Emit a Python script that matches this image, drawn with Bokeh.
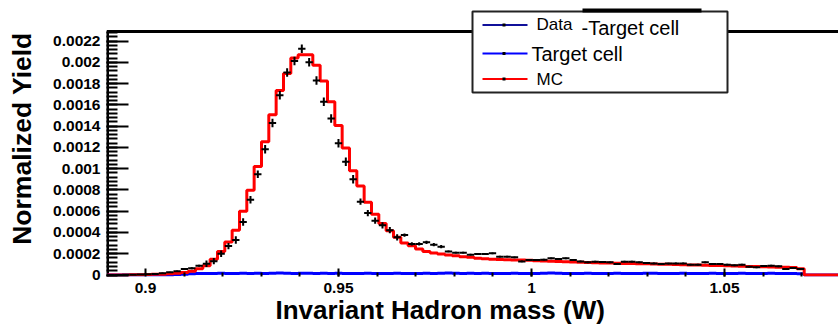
import numpy as np
from bokeh.plotting import figure
from bokeh.models import (Range1d, FixedTicker, Label, BoxAnnotation, Span, Title)
from bokeh.embed import file_html
from bokeh.resources import INLINE

# ---- histogram binning (W, GeV) ----
BIN_WIDTH = 0.0019
FIRST_EDGE = 0.89015

# MC histogram contents (normalized yield per bin)
mc = [0, 0, 1e-6, 2e-6, 3e-6, 4e-6, 6e-6, 8e-6, 1.1e-5, 1.6e-5,
      2.4e-5, 3.6e-5, 5.8e-5, 8.8e-5, 0.000147, 0.000222, 0.00031, 0.000422, 0.0006, 0.000797,
      0.00102, 0.001252, 0.001508, 0.001735, 0.001895, 0.00204, 0.002072, 0.002072, 0.001972, 0.001825,
      0.00163, 0.001405, 0.001195, 0.00098, 0.000838, 0.000683, 0.000572, 0.000485, 0.000417, 0.000354,
      0.0003, 0.000275, 0.000245, 0.000222, 0.000207, 0.000198, 0.000188, 0.000182, 0.000172, 0.000166,
      0.000158, 0.000152, 0.000149, 0.000146, 0.000144, 0.000142, 0.00014, 0.000138, 0.000135, 0.000132,
      0.00013, 0.000127, 0.000124, 0.000122, 0.00012, 0.000118, 0.000116, 0.000114, 0.000113, 0.000111,
      0.000109, 0.000108, 0.000106, 0.000105, 0.000103, 0.000101, 0.0001, 9.8e-5, 9.6e-5, 9.5e-5,
      9.4e-5, 9.2e-5, 9e-5, 8.9e-5, 8.7e-5, 8.5e-5, 8.3e-5, 8.1e-5, 8e-5, 7.8e-5,
      7.6e-5, 7.4e-5, 7.2e-5, 7e-5, 5.8e-5]

# Data minus target-cell contribution
data = [0, 0, 2e-6, 3e-6, 4e-6, 6e-6, 1e-5, 1.7e-5, 2.5e-5, 3.6e-5,
        5.6e-5, 6.4e-5, 8.75e-5, 0.000106, 0.00013, 0.0002, 0.000272, 0.00033, 0.000498, 0.000708,
        0.000947, 0.001182, 0.001429, 0.001691, 0.001905, 0.002012, 0.002127, 0.002001, 0.001829, 0.00163,
        0.001471, 0.00124, 0.001066, 0.0009, 0.00069, 0.000582, 0.000511, 0.000467, 0.000422, 0.000354,
        0.000375, 0.000292, 0.000292, 0.000307, 0.000285, 0.000266, 0.000222, 0.00021, 0.00021, 0.000191,
        0.000198, 0.000198, 0.000204, 0.000172, 0.000172, 0.000166, 0.000128, 0.000141, 0.000141, 0.000144,
        0.000157, 0.000151, 0.000157, 0.000141, 0.000128, 0.000119, 0.000125, 0.000122, 0.000119, 0.000104,
        0.000125, 0.000125, 0.000119, 0.000113, 0.000109, 0.000104, 0.000107, 0.000109, 0.000109, 9.7e-5,
        9.7e-5, 0.000119, 0.000104, 0.000104, 9.7e-5, 9.1e-5, 9.7e-5, 7.8e-5, 7.2e-5, 8.5e-5,
        8.8e-5, 8.2e-5, 5.6e-5, 6.6e-5, 5.6e-5]

# Statistical uncertainty on the data points
data_err = [3e-6, 3e-6, 3e-6, 3e-6, 3e-6, 3e-6, 6e-6, 6e-6, 6e-6, 6e-6,
            1e-5, 1e-5, 1e-5, 3e-5, 3e-5, 3e-5, 3e-5, 3.5e-5, 3.5e-5, 3.5e-5,
            3.5e-5, 4e-5, 4e-5, 4e-5, 4e-5, 4e-5, 4e-5, 4e-5, 4e-5, 4e-5,
            4e-5, 4e-5, 4e-5, 4e-5, 3e-5, 3e-5, 3e-5, 3e-5, 3e-5, 3e-5,
            1.5e-5, 1.5e-5, 1.5e-5, 1.5e-5, 1.5e-5, 1.5e-5, 8e-6, 8e-6, 8e-6, 8e-6,
            8e-6, 8e-6, 8e-6, 8e-6, 8e-6, 8e-6, 8e-6, 8e-6, 8e-6, 8e-6,
            8e-6, 8e-6, 8e-6, 8e-6, 8e-6, 8e-6, 8e-6, 8e-6, 8e-6, 8e-6,
            8e-6, 8e-6, 8e-6, 8e-6, 8e-6, 8e-6, 8e-6, 8e-6, 8e-6, 8e-6,
            8e-6, 8e-6, 8e-6, 8e-6, 8e-6, 8e-6, 8e-6, 8e-6, 8e-6, 8e-6,
            8e-6, 8e-6, 8e-6, 8e-6, 8e-6]

# Target-cell (empty target) contribution
target_cell = [0, 0, 0, 0, 0, 0, 0, 0, 0, 4e-6,
               8e-6, 1.2e-5, 1.4e-5, 1.5e-5, 1.4e-5, 1.6e-5, 1.5e-5, 1.5e-5, 1.7e-5, 1.5e-5,
               1.6e-5, 1.5e-5, 1.6e-5, 1.8e-5, 1.6e-5, 1.5e-5, 1.6e-5, 1.7e-5, 1.5e-5, 1.6e-5,
               1.5e-5, 1.6e-5, 1.5e-5, 1.4e-5, 1.5e-5, 1.6e-5, 1.5e-5, 1.4e-5, 1.5e-5, 1.6e-5,
               1.5e-5, 1.4e-5, 1.5e-5, 1.6e-5, 1.5e-5, 1.7e-5, 1.8e-5, 1.6e-5, 1.5e-5, 1.6e-5,
               1.5e-5, 1.6e-5, 1.5e-5, 1.4e-5, 1.5e-5, 1.6e-5, 1.5e-5, 1.4e-5, 1.5e-5, 1.6e-5,
               1.8e-5, 1.6e-5, 1.5e-5, 1.4e-5, 1.5e-5, 1.6e-5, 1.5e-5, 1.4e-5, 1.5e-5, 1.6e-5,
               1.5e-5, 1.4e-5, 1.5e-5, 1.6e-5, 1.7e-5, 1.5e-5, 1.4e-5, 1.5e-5, 1.6e-5, 1.5e-5,
               1.4e-5, 1.5e-5, 1.6e-5, 1.5e-5, 1.4e-5, 1.5e-5, 1.6e-5, 1.5e-5, 1.4e-5, 1.5e-5,
               1.6e-5, 1.5e-5, 1.4e-5, 1.3e-5, 1.2e-5]

# Axis ticks and their labels
x_ticks = [0.9, 0.95, 1.0, 1.05]
x_tick_labels = ["0.9", "0.95", "1", "1.05"]
y_ticks = [0, 0.0002, 0.0004, 0.0006, 0.0008, 0.001, 0.0012, 0.0014, 0.0016,
           0.0018, 0.002, 0.0022]
y_tick_labels = ["0", "0.0002", "0.0004", "0.0006", "0.0008", "0.001", "0.0012",
                 "0.0014", "0.0016", "0.0018", "0.002", "0.0022"]

# legend entries: (text pieces, line colour)
legend_entries = [([("Data", "17px", 536, 24), ("-Target cell", "20px", 581, 27)], "#10109a"),
                  ([("Target cell", "20px", 531, 53)], "#0000ff"),
                  ([("MC", "17px", 536, 78.5)], "#ff0000")]

# visible histogram window
X_LO = 0.89016
Y_HI = 0.00229

# canvas geometry (pixels)
W, H = 838, 325
LEFT, BOTTOM = 106, 49
FRAME_H = H - BOTTOM
PX_PER_X = 3860.0
PX_PER_Y = 106337.0
ZERO_PX = 1.5            # height of y = 0 above the frame bottom

x_start = X_LO - (107 - LEFT) / PX_PER_X
x_end = x_start + (W - LEFT) / PX_PER_X
y_start = -ZERO_PX / PX_PER_Y
y_end = y_start + FRAME_H / PX_PER_Y

edges = FIRST_EDGE + BIN_WIDTH * np.arange(len(mc) + 1)
centers = edges[:-1] + BIN_WIDTH / 2

FONT = "Liberation Sans"

p = figure(width=W, height=H, output_backend="svg", toolbar_location=None,
           x_range=Range1d(x_start, x_end), y_range=Range1d(y_start, y_end),
           min_border_left=LEFT, min_border_right=0, min_border_top=0,
           min_border_bottom=BOTTOM)
p.outline_line_color = None
p.grid.visible = False
p.background_fill_color = "white"
p.border_fill_color = "white"

# x axis
xa = p.xaxis[0]
xa.ticker = FixedTicker(ticks=x_ticks,
                        minor_ticks=[round(0.91 + 0.01 * i, 2) for i in range(17)])
xa.major_label_overrides = dict(zip(x_ticks, x_tick_labels))
xa.axis_line_color = None
xa.major_tick_in, xa.major_tick_out = 8, 0
xa.minor_tick_in, xa.minor_tick_out = 4, 0
xa.major_tick_line_width = 2
xa.minor_tick_line_width = 2
xa.major_label_standoff = 6
xa.major_label_text_font = FONT
xa.major_label_text_font_style = "bold"
xa.major_label_text_font_size = "15.5px"
xa.major_label_text_color = "black"

# y axis
ya = p.yaxis[0]
ya.ticker = FixedTicker(ticks=y_ticks,
                        minor_ticks=list(np.round(np.arange(0, 0.00229, 0.00004), 6)))
ya.major_label_overrides = dict(zip(y_ticks, y_tick_labels))
ya.axis_line_color = None
ya.major_tick_in, ya.major_tick_out = 22, 0
ya.minor_tick_in, ya.minor_tick_out = 11, 0
ya.major_tick_line_width = 2
ya.minor_tick_line_width = 2
ya.major_label_standoff = 6
ya.major_label_text_font = FONT
ya.major_label_text_font_style = "bold"
ya.major_label_text_font_size = "15.5px"
ya.major_label_text_color = "black"
ya.axis_label = "Normalized Yield"
ya.axis_label_standoff = 13
ya.axis_label_text_font = FONT
ya.axis_label_text_font_style = "bold"
ya.axis_label_text_font_size = "26.5px"
ya.axis_label_text_color = "black"

# x axis title
p.add_layout(Title(text="Invariant Hadron mass (W)", align="left", offset=169,
                   standoff=-5, text_font=FONT, text_font_style="bold",
                   text_font_size="26px", text_color="black"), "below")

# histogram frame: top edge and left edge
p.add_layout(Span(location=Y_HI, dimension="width", line_color="black",
                  line_width=3))
p.segment(x0=[X_LO], y0=[y_start], x1=[X_LO], y1=[Y_HI], line_color="black",
          line_width=3)

# histograms drawn as steps, closing to zero after the last bin
step_x = list(edges) + [x_end]
p.step(step_x, list(target_cell) + [0, 0], mode="after", line_color="#0000ff",
       line_width=3)
p.step(step_x, list(mc) + [0, 0], mode="after", line_color="#ff0000", line_width=3)

# data points with bin-width and statistical error bars
d = np.array(data)
e = np.array(data_err)
p.segment(x0=centers - BIN_WIDTH / 2, x1=centers + BIN_WIDTH / 2, y0=d, y1=d,
          line_color="black", line_width=2)
p.segment(x0=centers, x1=centers, y0=d - e, y1=d + e, line_color="black",
          line_width=2)


def box(left, right, top, bottom, fill, line=None, line_width=0):
    """Box in canvas pixels (origin top-left)."""
    p.add_layout(BoxAnnotation(left=left - LEFT, right=right - LEFT,
                               top=FRAME_H - top, bottom=FRAME_H - bottom,
                               left_units="screen", right_units="screen",
                               top_units="screen", bottom_units="screen",
                               fill_color=fill, fill_alpha=1.0,
                               line_color=line, line_width=line_width,
                               line_alpha=1.0))


# legend panel
box(472, 727, 11, 92, "white", "#222222", 2)
box(582, 701, 8, 12, "black")
for pieces, colour in legend_entries:
    yc = pieces[0][3] if len(pieces) == 1 else 24.5
    box(482, 527, yc - 1, yc + 1, colour)
    box(502, 505, yc - 1.5, yc + 1.5, "black")
    for s, size, x, y in pieces:
        p.add_layout(Label(x=x - LEFT, y=FRAME_H - y, x_units="screen",
                           y_units="screen", text=s, text_font=FONT,
                           text_font_size=size, text_color="black",
                           text_baseline="middle", level="overlay"))

open("out.html", "w").write(file_html(p, INLINE))
